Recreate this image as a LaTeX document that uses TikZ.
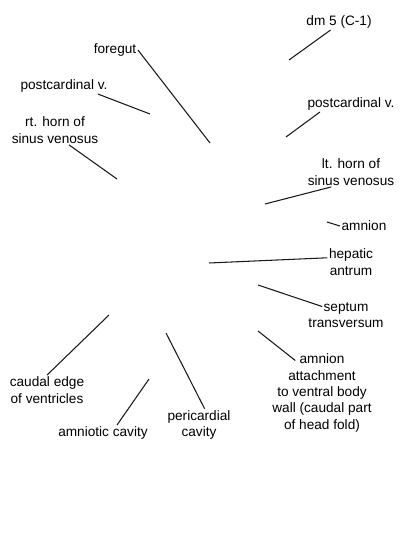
\documentclass[tikz,border=0pt]{standalone}
\usepackage{fontspec}
\setmainfont{Liberation Sans}
\usepackage{tikz}
\usetikzlibrary{positioning}
\definecolor{LeaderGray}{RGB}{25,25,25}
\tikzset{
  lbl/.style={font=\fontsize{9.7}{11.7}\selectfont, align=center, inner sep=1pt, text=black},
  leader/.style={draw=LeaderGray, line width=0.75pt},
}

\begin{document}
\begin{tikzpicture}[x=0.025cm, y=-0.025cm]
  \useasboundingbox (0,0) rectangle (400,550);
  % labels
  \node[lbl] (dm5) at (339,22) {dm 5 (C-1)};
  \node[lbl] (foregut) at (115,50) {foregut};
  \node[lbl] (pcvL) at (64,86) {postcardinal v.};
  \node[lbl] (rthorn) at (55,130) {rt. horn of\\sinus venosus};
  \node[lbl] (pcvR) at (351,104) {postcardinal v.};
  \node[lbl] (lthorn) at (351,172) {lt. horn of\\sinus venosus};
  \node[lbl] (amnion) at (364,226) {amnion};
  \node[lbl] (hepatic) at (351,262) {hepatic\\antrum};
  \node[lbl] (septum) at (346,315) {septum\\transversum};
  \node[lbl] (attach) at (322,393) {amnion\\attachment\\to ventral body\\wall (caudal part\\of head fold)};
  \node[lbl] (caudal) at (47,390) {caudal edge\\of ventricles};
  \node[lbl] (amcav) at (103,433) {amniotic cavity};
  \node[lbl] (peri) at (199,425) {pericardial\\cavity};
  % pointer ends
  \coordinate (p-dm5) at (289,60);
  \coordinate (p-foregut) at (210,143);
  \coordinate (p-pcvL) at (150,114);
  \coordinate (p-rthorn) at (117,179);
  \coordinate (p-pcvR) at (286,137);
  \coordinate (p-lthorn) at (265,204);
  \coordinate (p-amnion) at (327,222);
  \coordinate (p-hepatic) at (209,263);
  \coordinate (p-septum) at (258,285);
  \coordinate (p-attach) at (258,331);
  \coordinate (p-caudal) at (109,315);
  \coordinate (p-amcav) at (149,379);
  \coordinate (p-peri) at (166,333);
  % leaders
  \draw[leader] (p-dm5) -- ([xshift=-6pt]dm5.south);
  \draw[leader] (p-foregut) -- (foregut.east);
  \draw[leader] (p-pcvL) -- ([xshift=-8pt]pcvL.south east);
  \draw[leader] (p-rthorn) -- ([xshift=10pt]rthorn.south);
  \draw[leader] (p-pcvR) -- ([xshift=10pt]pcvR.south west);
  \draw[leader] (p-lthorn) -- ([xshift=-14pt]lthorn.south);
  \draw[leader] (p-amnion) -- (amnion.west);
  \draw[leader] (p-hepatic) -- ([yshift=3pt]hepatic.west);
  \draw[leader] (p-septum) -- ([xshift=11pt,yshift=6pt]septum.west);
  \draw[leader] (p-attach) -- ([xshift=-19pt,yshift=-6pt]attach.north);
  \draw[leader] (p-caudal) -- (caudal.north);
  \draw[leader] (p-amcav) -- ([xshift=10pt]amcav.north);
  \draw[leader] (p-peri) -- ([xshift=4pt]peri.north);
\end{tikzpicture}
\end{document}
